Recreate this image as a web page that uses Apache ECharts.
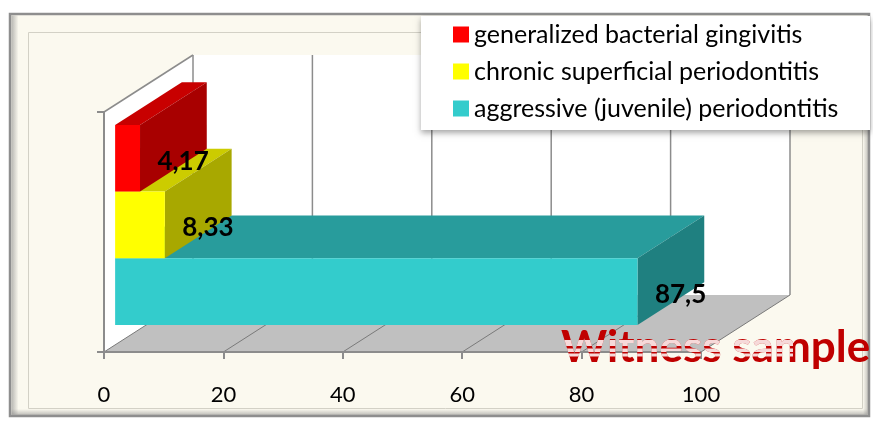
<!DOCTYPE html>
<html>
<head>
<meta charset="utf-8">
<script src="https://cdn.jsdelivr.net/npm/echarts@6/dist/echarts.min.js"></script>
<style>
  html, body { margin: 0; padding: 0; background: #ffffff; }
  #chart { width: 873px; height: 421px; }
</style>
</head>
<body>
<div id="chart"></div>
<script>
// ---- data ----
const categories = ['Witness sample'];
const seriesNames = [
  'generalized bacterial gingivitis',
  'chronic superficial periodontitis',
  'aggressive (juvenile) periodontitis'
];
const gingivitisValues = [4.17];
const superficialValues = [8.33];
const aggressiveValues = [87.5];
const xTicks = [0, 20, 40, 60, 80, 100];

// ---- styling ----
const FONT = 'Lato, "Open Sans", sans-serif';
const DEPTH = [89, -57];          // projection of the full floor depth
const BAR_FROM = 0.125;           // bar starts this far into the depth
const BAR_SPAN = 0.75;            // and occupies this much of it
const faces = [
  { front: '#ff0000', top: '#c80000', side: '#a80000' },
  { front: '#ffff00', top: '#cccc00', side: '#a8a800' },
  { front: '#33cccc', top: '#289c9c', side: '#1f8080' }
];
const GRID_COLOR = '#8c8c8c';

const fmt = v => String(v).replace('.', ',');

// Floor, side wall, back wall and their grid lines
function renderWalls(params, api) {
  const cs = params.coordSys;
  const top = cs.y, bottom = cs.y + cs.height;
  const dx = DEPTH[0], dy = DEPTH[1];
  const x0 = api.coord([xTicks[0], 0])[0];
  const xN = api.coord([xTicks[xTicks.length - 1], 0])[0];
  const children = [];
  children.push({ type: 'rect', shape: { x: x0 + dx, y: top + dy, width: xN - x0, height: cs.height },
    style: { fill: '#ffffff' } });
  children.push({ type: 'polygon', shape: { points: [[x0, top], [x0 + dx, top + dy], [x0 + dx, bottom + dy], [x0, bottom]] },
    style: { fill: '#ffffff' } });
  children.push({ type: 'polygon', shape: { points: [[x0, bottom], [xN, bottom], [xN + dx, bottom + dy], [x0 + dx, bottom + dy]] },
    style: { fill: '#c0c0c0' } });
  children.push({ type: 'line', shape: { x1: x0, y1: top, x2: x0 + dx, y2: top + dy },
    style: { stroke: GRID_COLOR, lineWidth: 1.5 } });
  xTicks.forEach(t => {
    const x = api.coord([t, 0])[0];
    children.push({ type: 'line', shape: { x1: x + dx, y1: top + dy, x2: x + dx, y2: bottom + dy },
      style: { stroke: GRID_COLOR, lineWidth: 1.5 } });
    children.push({ type: 'line', shape: { x1: x, y1: bottom, x2: x + dx, y2: bottom + dy },
      style: { stroke: '#7a7a7a', lineWidth: 1 } });
  });
  return { type: 'group', children };
}

// 3D bar: front face, top face, end face and value label
function barRenderer(row, col) {
  return function (params, api) {
    const v = api.value(0);
    const cat = api.value(1);
    const base = api.coord([0, cat]);
    const end = api.coord([v, cat]);
    const band = api.size([0, 1])[1];
    const w = band / 3.6;
    const cy = base[1] + (row - 1) * w;
    const sx = DEPTH[0] * BAR_FROM, sy = DEPTH[1] * BAR_FROM;
    const ex = DEPTH[0] * BAR_SPAN, ey = DEPTH[1] * BAR_SPAN;
    const xa = base[0] + sx, xb = end[0] + sx;
    const t = cy - w / 2 + sy, b = cy + w / 2 + sy;
    return {
      type: 'group',
      children: [
        { type: 'polygon', shape: { points: [[xa, t], [xb, t], [xb + ex, t + ey], [xa + ex, t + ey]] },
          style: { fill: col.top } },
        { type: 'polygon', shape: { points: [[xb, t], [xb + ex, t + ey], [xb + ex, b + ey], [xb, b]] },
          style: { fill: col.side } },
        { type: 'rect', shape: { x: xa, y: t, width: xb - xa, height: b - t },
          style: { fill: col.front } },
        { type: 'text', z2: 50,
          style: { text: fmt(v), x: xb + ex + 2, y: cy + sy + 3,
            align: 'right', textAlign: 'right', verticalAlign: 'middle', textVerticalAlign: 'middle',
            font: 'bold 26px ' + FONT, fill: '#000000' } }
      ]
    };
  };
}

// Category caption in dark red with a light streak across its middle
const CAPTION = { x: 561, y: 348, font: 'bold 44px ' + FONT };
function renderCaption(params, api) {
  const text = categories[api.value(1)];
  const base = { text, x: CAPTION.x, y: CAPTION.y, font: CAPTION.font,
    verticalAlign: 'middle', textVerticalAlign: 'middle' };
  const children = [
    { type: 'text', style: Object.assign({}, base, {
        fill: '#c00000', shadowColor: 'rgba(70,0,0,0.45)', shadowOffsetY: 2, shadowBlur: 2 }) }
  ];
  [[340, 6], [348.5, 3.5], [353.5, 3]].forEach(([y, h]) => {
    children.push({ type: 'text', z2: 5,
      clipPath: { type: 'rect', shape: { x: CAPTION.x, y, width: 232, height: h } },
      style: Object.assign({}, base, { fill: 'rgba(255,255,255,0.85)' }) });
  });
  return { type: 'group', children };
}

const valueSets = [gingivitisValues, superficialValues, aggressiveValues];
const barSeries = seriesNames.map((name, i) => ({
  name,
  type: 'custom',
  z: 6 - i,
  itemStyle: { color: faces[i].front },
  renderItem: barRenderer(i, faces[i]),
  data: valueSets[i].map((v, k) => [v, k])
}));

const chart = echarts.init(document.getElementById('chart'), null, { renderer: 'canvas' });

chart.setOption({
  animation: false,
  backgroundColor: '#ffffff',
  textStyle: { fontFamily: FONT },
  grid: { left: 104, top: 112, width: 597, height: 240, containLabel: false },
  xAxis: {
    type: 'value', min: 0, max: 100, interval: 20, z: 10,
    axisLine: { show: true, lineStyle: { color: GRID_COLOR, width: 2 } },
    axisTick: { show: true, length: 7, lineStyle: { color: GRID_COLOR, width: 2 } },
    axisLabel: { margin: 32, fontSize: 22, color: '#000000', fontFamily: FONT },
    splitLine: { show: false }
  },
  yAxis: {
    type: 'category', data: categories, z: 10,
    axisLine: { show: true, lineStyle: { color: GRID_COLOR, width: 2 } },
    axisTick: { show: true, length: 7, lineStyle: { color: GRID_COLOR, width: 2 } },
    axisLabel: { show: false },
    splitLine: { show: false }
  },
  legend: {
    data: seriesNames,
    orient: 'vertical',
    left: 453, top: 22, padding: 0,
    icon: 'rect', itemWidth: 16, itemHeight: 16, itemGap: 12,
    z: 20,
    textStyle: { fontSize: 25, lineHeight: 22, color: '#000000', fontFamily: FONT }
  },
  graphic: [
    { type: 'rect', z: -10, shape: { x: 10, y: 14, width: 859, height: 402 },
      style: { fill: '#fbf9ef', stroke: '#8e8e8e', lineWidth: 2.5 } },
    { type: 'rect', z: -9, shape: { x: 11.5, y: 15.5, width: 7, height: 399 },
      style: { fill: new echarts.graphic.LinearGradient(0, 0, 1, 0, [
        { offset: 0, color: 'rgba(130,130,130,0.55)' }, { offset: 1, color: 'rgba(130,130,130,0)' }]) } },
    { type: 'rect', z: -9, shape: { x: 11.5, y: 409, width: 856, height: 6 },
      style: { fill: new echarts.graphic.LinearGradient(0, 0, 0, 1, [
        { offset: 0, color: 'rgba(130,130,130,0)' }, { offset: 1, color: 'rgba(130,130,130,0.5)' }]) } },
    { type: 'rect', z: -9, shape: { x: 863, y: 15.5, width: 5, height: 399 },
      style: { fill: new echarts.graphic.LinearGradient(0, 0, 1, 0, [
        { offset: 0, color: 'rgba(130,130,130,0)' }, { offset: 1, color: 'rgba(130,130,130,0.45)' }]) } },
    { type: 'rect', z: -8, shape: { x: 28.5, y: 32.5, width: 834, height: 376 },
      style: { fill: 'none', stroke: '#d3d1c6', lineWidth: 1 } },
    { type: 'rect', z: 15, shape: { x: 421, y: 16, width: 449, height: 114 },
      style: { fill: '#ffffff', shadowBlur: 6, shadowColor: 'rgba(0,0,0,0.35)', shadowOffsetY: 3 } }
  ],
  series: [
    { name: 'walls', type: 'custom', z: 1, silent: true, renderItem: renderWalls, data: [[0, 0]] },
    { name: 'caption', type: 'custom', z: 30, silent: true, renderItem: renderCaption, data: [[0, 0]] }
  ].concat(barSeries)
});
</script>
</body>
</html>
